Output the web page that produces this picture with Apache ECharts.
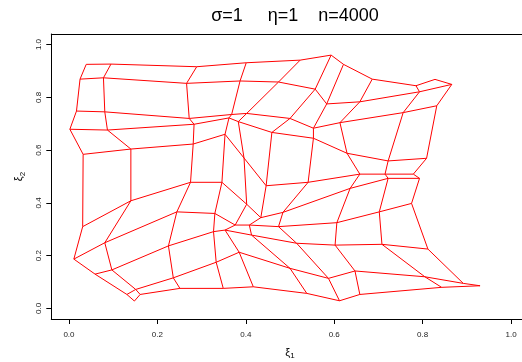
<!DOCTYPE html>
<html lang="en">
<head>
<meta charset="UTF-8">
<title>SOM grid</title>
<script src="https://cdn.jsdelivr.net/npm/echarts@6/dist/echarts.min.js"></script>
</head>
<body style="margin: 0">
<div id="main" style="width: 522px; height: 362px"></div>
<script>
// node positions of the 10x10 map, one row per array (row 0 = bottom)
var xi1Rows = [
    [0.148, 0.161, 0.251, 0.349, 0.417, 0.538, 0.612, 0.658, 0.843, 0.930],
    [0.131, 0.151, 0.236, 0.333, 0.385, 0.500, 0.587, 0.647, 0.805, 0.892],
    [0.059, 0.097, 0.225, 0.327, 0.353, 0.413, 0.515, 0.602, 0.708, 0.812],
    [0.011, 0.081, 0.244, 0.330, 0.376, 0.408, 0.474, 0.606, 0.702, 0.775],
    [0.031, 0.140, 0.275, 0.346, 0.402, 0.434, 0.484, 0.636, 0.722, 0.793],
    [0.032, 0.140, 0.281, 0.353, 0.396, 0.446, 0.541, 0.658, 0.715, 0.779],
    [0.002, 0.087, 0.283, 0.362, 0.383, 0.459, 0.553, 0.629, 0.722, 0.809],
    [0.017, 0.081, 0.272, 0.368, 0.402, 0.500, 0.553, 0.613, 0.756, 0.832],
    [0.025, 0.078, 0.266, 0.387, 0.474, 0.557, 0.583, 0.658, 0.793, 0.866],
    [0.039, 0.095, 0.289, 0.401, 0.523, 0.593, 0.621, 0.686, 0.785, 0.828]
];
var xi2Rows = [
    [0.028, 0.053, 0.076, 0.076, 0.082, 0.057, 0.029, 0.053, 0.080, 0.086],
    [0.053, 0.072, 0.116, 0.175, 0.213, 0.152, 0.114, 0.142, 0.120, 0.095],
    [0.130, 0.146, 0.237, 0.291, 0.297, 0.278, 0.247, 0.240, 0.243, 0.225],
    [0.187, 0.249, 0.366, 0.360, 0.316, 0.316, 0.310, 0.325, 0.366, 0.398],
    [0.310, 0.408, 0.478, 0.478, 0.395, 0.344, 0.364, 0.455, 0.493, 0.493],
    [0.584, 0.604, 0.623, 0.660, 0.570, 0.465, 0.478, 0.509, 0.509, 0.509],
    [0.679, 0.676, 0.698, 0.722, 0.708, 0.667, 0.645, 0.588, 0.559, 0.569],
    [0.748, 0.745, 0.720, 0.735, 0.739, 0.720, 0.683, 0.704, 0.742, 0.768],
    [0.869, 0.874, 0.853, 0.862, 0.858, 0.831, 0.775, 0.783, 0.821, 0.849],
    [0.925, 0.926, 0.916, 0.931, 0.941, 0.960, 0.925, 0.869, 0.844, 0.868]
];
var tickValues = [0, 0.2, 0.4, 0.6, 0.8, 1.0];
var titleText = 'σ=1     η=1    n=4000';

var myChart = echarts.init(document.getElementById('main'));

var series = [];
var nRow = xi1Rows.length, nCol = xi1Rows[0].length;
// rows of the map
for (var r = 0; r < nRow; r++) {
    var pts = [];
    for (var c = 0; c < nCol; c++) pts.push([xi1Rows[r][c], xi2Rows[r][c]]);
    series.push({ type: 'line', data: pts });
}
// columns of the map
for (var c = 0; c < nCol; c++) {
    var pts = [];
    for (var r = 0; r < nRow; r++) pts.push([xi1Rows[r][c], xi2Rows[r][c]]);
    series.push({ type: 'line', data: pts });
}
series.forEach(function (s) {
    s.symbol = 'none';
    s.silent = true;
    s.lineStyle = { color: '#ff0000', width: 1 };
});

var axisFont = { fontFamily: 'Liberation Sans', fontSize: 8, color: '#222' };
var boxLine = { show: true, onZero: false, lineStyle: { color: '#000', width: 1 } };
var nameRich = {
    a: { fontFamily: 'Liberation Sans', fontSize: 11, color: '#000' },
    b: { fontFamily: 'Liberation Sans', fontSize: 8, color: '#000', padding: [6, 0, 0, 0] }
};
function fmt(v) { return v.toFixed(1); }

var option = {
    animation: false,
    title: {
        text: titleText,
        left: 290,
        top: 2,
        textAlign: 'center',
        textStyle: { fontFamily: 'Liberation Sans', fontSize: 18, fontWeight: 'normal', color: '#000' }
    },
    // plot box is wider than the window on the right, as in the original
    grid: { left: 51.3, top: 34, width: 477.4, height: 285, outerBoundsMode: 'none', containLabel: false },
    xAxis: [{
        type: 'value', min: -0.04, max: 1.04, position: 'bottom',
        name: '{a|ξ}{b|1}', nameLocation: 'middle', nameGap: 27,
        nameTextStyle: { rich: nameRich },
        axisLine: boxLine,
        splitLine: { show: false },
        axisTick: { show: true, inside: false, length: 5, customValues: tickValues, lineStyle: { color: '#000' } },
        axisLabel: Object.assign({ margin: 12, customValues: tickValues, formatter: fmt }, axisFont)
    }, {
        type: 'value', min: -0.04, max: 1.04, position: 'top',
        axisLine: boxLine, axisTick: { show: false }, axisLabel: { show: false }, splitLine: { show: false }
    }],
    yAxis: [{
        type: 'value', min: -0.04, max: 1.04, position: 'left',
        name: '{a|ξ}{b|2}', nameLocation: 'middle', nameGap: 24, nameRotate: 90,
        nameTextStyle: { rich: nameRich },
        axisLine: boxLine,
        splitLine: { show: false },
        axisTick: { show: true, inside: false, length: 5, customValues: tickValues, lineStyle: { color: '#000' } },
        axisLabel: Object.assign({ margin: 9, rotate: 90, customValues: tickValues, formatter: fmt }, axisFont)
    }, {
        type: 'value', min: -0.04, max: 1.04, position: 'right',
        axisLine: boxLine, axisTick: { show: false }, axisLabel: { show: false }, splitLine: { show: false }
    }],
    series: series
};

myChart.setOption(option);
window.addEventListener('resize', myChart.resize);
</script>
</body>
</html>
